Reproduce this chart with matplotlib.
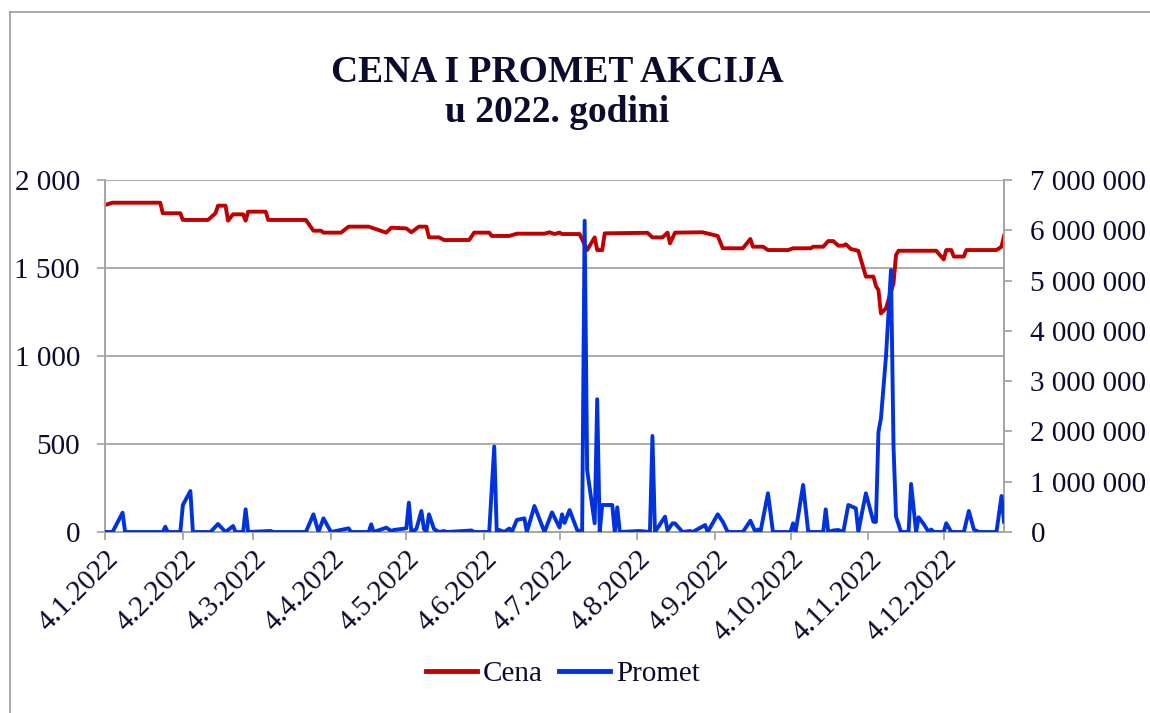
import matplotlib
matplotlib.use("Agg")
import matplotlib.pyplot as plt
from matplotlib.ticker import FuncFormatter, MultipleLocator
from matplotlib.lines import Line2D
import pandas as pd

# ---- data; x = day of year 2022 ----
cena_day = [4, 7, 26, 27, 34, 35, 45, 48, 49, 52, 53, 55, 59, 60, 61, 68, 69, 84, 87, 90,
            91, 98, 101, 109, 116, 118, 124, 126, 129, 132, 133, 137, 139, 149, 151, 157,
            158, 165, 168, 179, 181, 183, 185, 186, 193, 196, 199, 200, 202, 203, 220, 222,
            226, 228, 229, 231, 242, 248, 250, 258, 261, 262, 266, 268, 276, 278, 285, 286,
            290, 292, 294, 296, 298, 299, 301, 304, 307, 310, 311, 312, 313, 315, 318, 319,
            320, 335, 338, 339, 341, 342, 346, 347, 359, 361, 362]
cena_val = [1858, 1871, 1871, 1811, 1811, 1773, 1773, 1811, 1854, 1854, 1769, 1805, 1805,
            1769, 1820, 1820, 1773, 1773, 1712, 1712, 1701, 1701, 1735, 1735, 1701, 1729,
            1725, 1703, 1735, 1735, 1674, 1674, 1659, 1659, 1701, 1701, 1682, 1682, 1695,
            1695, 1703, 1693, 1701, 1693, 1693, 1602, 1674, 1602, 1602, 1697, 1700, 1674,
            1674, 1701, 1640, 1701, 1703, 1682, 1612, 1612, 1665, 1621, 1621, 1602, 1602,
            1612, 1612, 1621, 1621, 1653, 1653, 1627, 1627, 1635, 1608, 1598, 1451, 1451,
            1398, 1375, 1242, 1271, 1413, 1574, 1598, 1598, 1549, 1602, 1602, 1565, 1565,
            1602, 1602, 1621, 1682]

promet_day = [4, 7, 11, 12, 27, 28, 29, 34, 35, 38, 39, 46, 49, 52, 55, 56, 59, 60, 61, 70,
              71, 84, 87, 89, 91, 94, 101, 102, 109, 110, 111, 116, 118, 119, 124, 125, 126,
              128, 130, 131, 132, 133, 135, 137, 139, 140, 150, 151, 157, 159, 160, 161, 163,
              165, 166, 168, 171, 172, 175, 179, 182, 185, 186, 187, 189, 192, 194, 195, 196,
              199, 200, 201, 202, 206, 207, 208, 209, 217, 221, 222, 223, 227, 228, 230, 231,
              234, 237, 238, 243, 244, 248, 250, 252, 258, 261, 263, 264, 265, 268, 270, 277,
              278, 279, 282, 284, 285, 290, 291, 292, 294, 296, 298, 300, 303, 304, 305, 307,
              310, 311, 312, 313, 315, 317, 318, 319, 321, 324, 325, 327, 328, 330, 332, 333,
              334, 338, 339, 341, 346, 348, 350, 352, 359, 361, 362]
promet_val = [0, 0, 384000, 0, 0, 105000, 0, 0, 537000, 815000, 0, 0, 159000, 0, 119000, 0,
              0, 451000, 0, 20000, 0, 0, 352000, 0, 272000, 0, 73000, 0, 0, 153000, 0, 86000,
              20000, 40000, 73000, 583000, 0, 60000, 418000, 60000, 0, 352000, 60000, 0,
              20000, 0, 30000, 0, 0, 1700000, 0, 40000, 0, 70000, 0, 240000, 272000, 0,
              517000, 0, 391000, 90000, 352000, 180000, 437000, 40000, 0, 6190000, 1230000,
              173000, 2640000, 0, 537000, 537000, 0, 490000, 0, 20000, 0, 1910000, 0, 305000,
              30000, 173000, 170000, 0, 20000, 0, 139000, 0, 352000, 205000, 0, 0, 225000, 0,
              50000, 0, 770000, 0, 0, 173000, 0, 935000, 20000, 0, 0, 451000, 0, 30000, 40000,
              0, 537000, 471000, 0, 270000, 770000, 205000, 200000, 1990000, 2260000,
              3490000, 5210000, 1700000, 305000, 0, 0, 955000, 0, 292000, 160000, 0, 50000,
              0, 0, 173000, 0, 0, 418000, 50000, 0, 0, 716000, 205000]

tick_months = [1, 2, 3, 4, 5, 6, 7, 8, 9, 10, 11, 12]
title_lines = ["CENA I PROMET AKCIJA", "u 2022. godini"]
series_names = ["Cena", "Promet"]

# ---- styling ----
plt.rcParams['font.family'] = ['Liberation Serif', 'DejaVu Serif']
TXT = '#0b0b2e'
RED = '#C00000'
BLUE = '#0033DD'
GRID = '#a6a6a6'
FS = 21

base = pd.Timestamp('2022-01-01')
def to_dates(days):
    return [base + pd.Timedelta(days=d - 1) for d in days]

cena_x = to_dates(cena_day)
promet_x = to_dates(promet_day)

W, H = 1150, 713
fig = plt.figure(figsize=(W / 100, H / 100), dpi=100)
ax = fig.add_axes([105 / W, 1 - 532 / H, (1004 - 105) / W, (532 - 180) / H])
ax2 = ax.twinx()

ax.plot(cena_x, cena_val, color=RED, lw=2.8, solid_joinstyle='round', zorder=3)
ax2.plot(promet_x, promet_val, color=BLUE, lw=2.8, solid_joinstyle='round', zorder=3)

ax.set_ylim(0, 2000)
ax2.set_ylim(0, 7000000)
ax.yaxis.set_major_locator(MultipleLocator(500))
ax2.yaxis.set_major_locator(MultipleLocator(1000000))
fmt = FuncFormatter(lambda v, p: f"{int(round(v)):,}".replace(',', ' '))
ax.yaxis.set_major_formatter(fmt)
ax2.yaxis.set_major_formatter(fmt)

ax.set_xlim(base + pd.Timedelta(days=3), base + pd.Timedelta(days=361))
ticks = [pd.Timestamp(2022, m, 4) for m in tick_months]
ax.set_xticks(ticks)
ax.set_xticklabels([f"{t.day}.{t.month}.{t.year}" for t in ticks])

ax.grid(axis='y', color=GRID, lw=1.3)
ax.set_axisbelow(True)
ax2.set_zorder(ax.get_zorder() + 1)
ax2.patch.set_visible(False)

for a in (ax, ax2):
    for s in a.spines.values():
        s.set_color(GRID)
        s.set_linewidth(1.3)
    a.spines['top'].set_visible(False)

ax.tick_params(axis='y', length=6, width=1.3, color=GRID, pad=12, labelsize=FS, labelcolor=TXT)
ax2.tick_params(axis='y', length=6, width=1.3, color=GRID, pad=13, labelsize=FS, labelcolor=TXT)
ax.tick_params(axis='x', length=6, width=1.3, color=GRID, pad=4, labelsize=FS, labelcolor=TXT)
for lbl in ax.get_xticklabels():
    lbl.set_rotation(45)
    lbl.set_ha('right')
    lbl.set_va('top')
    lbl.set_rotation_mode('anchor')

# title
fig.text(557 / W, 1 - 73 / H, title_lines[0], ha='center', va='center',
         fontsize=27, fontweight='bold', color=TXT)
fig.text(557 / W, 1 - 113 / H, title_lines[1], ha='center', va='center',
         fontsize=27, fontweight='bold', color=TXT)

# legend
handles = [Line2D([], [], color=RED, lw=3.5), Line2D([], [], color=BLUE, lw=3.5)]
fig.legend(handles, series_names, loc='center', bbox_to_anchor=(563 / W, 1 - 674 / H),
           ncol=2, frameon=False, fontsize=FS, handlelength=1.75, handletextpad=0.2,
           columnspacing=0.55, labelcolor=TXT)

# outer chart frame
fig.add_artist(Line2D([10 / W, 10 / W], [0, 1 - 12 / H], transform=fig.transFigure,
                      color='#9a9a9a', lw=1.2))
fig.add_artist(Line2D([10 / W, 1], [1 - 12 / H, 1 - 12 / H], transform=fig.transFigure,
                      color='#9a9a9a', lw=1.2))

fig.savefig('out.png', dpi=100)
